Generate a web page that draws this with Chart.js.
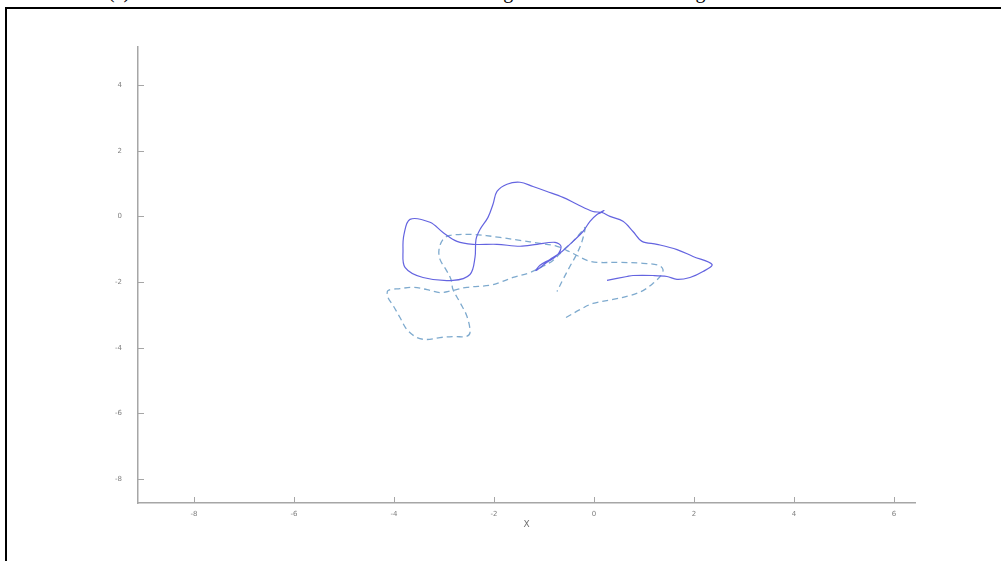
<!DOCTYPE html>
<html>
<head>
<meta charset="utf-8">
<script src="https://cdn.jsdelivr.net/npm/chart.js@4.4.1/dist/chart.umd.min.js"></script>
<style>
  body { margin: 0; background: #fff; width: 1001px; height: 561px; overflow: hidden; position: relative; }
  #frame { position: absolute; left: 5px; top: 7px; width: 1000px; height: 560px; border-top: 2px solid #000; border-left: 2px solid #000; }
  #caption { position: absolute; top: -20px; left: 0; width: 1001px; height: 24px; font: 20px "Liberation Serif", serif; color: #000; }
  #caption span { position: absolute; top: 0; }
  #wrap { position: absolute; left: 0; top: 0; }
</style>
</head>
<body>
<div id="caption"><span style="left:108px">(a)</span><span style="left:470px">using</span><span style="left:640px">tracking</span></div>
<div id="frame"></div>
<div id="wrap"><canvas id="chart" width="1001" height="561"></canvas></div>
<script>
// axis ticks
const xTicks = [-8, -6, -4, -2, 0, 2, 4, 6];
const yTicks = [-8, -6, -4, -2, 0, 2, 4];

// solid trajectory
const solidX = [0.26, 0.66, 0.78, 1.18, 1.46, 1.66, 1.92, 2.18, 2.36, 1.98, 1.66, 1.26, 0.96, 0.78, 0.58, 0.32, 0.16,
  -0.02, -0.34, -0.62, -0.94, -1.22, -1.48, -1.74, -1.94, -2.02, -2.12, -2.28, -2.36, -2.38, -2.48, -2.82, -3.42,
  -3.78, -3.82, -3.80, -3.68, -3.28, -3.02, -2.74, -2.42, -1.94, -1.48, -1.14, -0.78, -0.66, -0.74, -0.94, -1.16,
  -1.08, -0.88, -0.64, -0.42, -0.22, -0.08, 0.06, 0.20, 0.10, 0.18];
const solidY = [-1.95, -1.83, -1.80, -1.80, -1.83, -1.92, -1.86, -1.68, -1.46, -1.22, -1.01, -0.85, -0.76, -0.46, -0.15, 0.00, 0.12,
  0.15, 0.37, 0.58, 0.76, 0.91, 1.04, 0.98, 0.76, 0.37, -0.03, -0.40, -0.70, -1.25, -1.77, -1.95, -1.86,
  -1.55, -1.01, -0.55, -0.09, -0.18, -0.49, -0.76, -0.85, -0.85, -0.91, -0.85, -0.79, -0.91, -1.19, -1.40, -1.65,
  -1.49, -1.31, -1.07, -0.76, -0.46, -0.15, 0.06, 0.18, 0.09, 0.15];

// dashed trajectory
const dashX = [-0.56, -0.28, -0.02, 0.38, 0.72, 0.98, 1.18, 1.34, 1.38, 1.30, 0.98, 0.52, 0.06, -0.14, -0.34, -0.54,
  -0.74, -1.08, -1.48, -1.88, -2.42, -2.88, -3.02, -3.10, -3.08, -2.96, -2.86, -2.82, -2.68, -2.54, -2.48, -2.56,
  -2.78, -3.08, -3.34, -3.54, -3.74, -3.88, -4.02, -4.12, -4.12, -3.88, -3.62, -3.34, -3.08, -2.84, -2.54, -2.08,
  -1.88, -1.62, -1.28, -1.02, -0.82, -0.62, -0.42, -0.28, -0.18, -0.24, -0.34, -0.48, -0.62, -0.74];
const dashY = [-3.08, -2.84, -2.65, -2.53, -2.41, -2.26, -2.04, -1.80, -1.62, -1.49, -1.43, -1.40, -1.40, -1.34, -1.19, -1.04,
  -0.91, -0.82, -0.73, -0.64, -0.55, -0.58, -0.70, -1.01, -1.31, -1.62, -1.92, -2.23, -2.62, -3.05, -3.54, -3.66,
  -3.66, -3.69, -3.75, -3.69, -3.45, -3.08, -2.71, -2.47, -2.26, -2.20, -2.16, -2.23, -2.32, -2.26, -2.16, -2.10,
  -2.01, -1.86, -1.71, -1.52, -1.34, -1.04, -0.76, -0.52, -0.34, -0.76, -1.13, -1.52, -1.92, -2.29];

const toPoints = (xs, ys) => xs.map((x, i) => ({ x: x, y: ys[i] }));

const axisColor = "#a6a6a6";
const labelColor = "#808080";

// ticks drawn inward from the axis lines
const innerTicks = {
  id: "innerTicks",
  afterDraw(chart) {
    const { ctx, chartArea, scales } = chart;
    ctx.save();
    ctx.strokeStyle = axisColor;
    ctx.lineWidth = 1;
    scales.x.ticks.forEach(t => {
      const px = Math.round(scales.x.getPixelForValue(t.value)) + 0.5;
      ctx.beginPath();
      ctx.moveTo(px, chartArea.bottom);
      ctx.lineTo(px, chartArea.bottom - 6);
      ctx.stroke();
    });
    scales.y.ticks.forEach(t => {
      const py = Math.round(scales.y.getPixelForValue(t.value)) + 0.5;
      ctx.beginPath();
      ctx.moveTo(chartArea.left, py);
      ctx.lineTo(chartArea.left + 6, py);
      ctx.stroke();
    });
    ctx.restore();
  }
};

new Chart(document.getElementById("chart"), {
  type: "scatter",
  data: {
    datasets: [
      {
        data: toPoints(solidX, solidY),
        showLine: true,
        borderColor: "#6464e0",
        borderWidth: 1.2,
        pointRadius: 0,
        tension: 0.35,
        fill: false
      },
      {
        data: toPoints(dashX, dashY),
        showLine: true,
        borderColor: "#7eaace",
        borderWidth: 1.3,
        borderDash: [6, 4],
        pointRadius: 0,
        tension: 0.35,
        fill: false
      }
    ]
  },
  options: {
    responsive: false,
    animation: false,
    devicePixelRatio: 1,
    layout: { padding: { left: 0, top: 47, right: 86, bottom: 0 } },
    plugins: { legend: { display: false }, tooltip: { enabled: false } },
    scales: {
      x: {
        type: "linear",
        min: -9.12,
        max: 6.42,
        afterBuildTicks: s => { s.ticks = xTicks.map(v => ({ value: v })); },
        afterFit: s => { s.height = 58; },
        grid: { display: false, drawTicks: false },
        border: { display: true, color: axisColor, width: 1.5 },
        ticks: { color: labelColor, font: { family: "DejaVu Sans", size: 7 }, padding: 7, maxRotation: 0 },
        title: { display: true, text: "X", color: "#707070", font: { family: "DejaVu Sans", size: 9 }, padding: { top: 0, bottom: 31 } }
      },
      y: {
        type: "linear",
        min: -8.73,
        max: 5.16,
        afterBuildTicks: s => { s.ticks = yTicks.map(v => ({ value: v })); },
        afterFit: s => { s.width = 138; },
        grid: { display: false, drawTicks: false },
        border: { display: true, color: axisColor, width: 1.5 },
        ticks: { color: labelColor, font: { family: "DejaVu Sans", size: 7 }, padding: 16 }
      }
    }
  },
  plugins: [innerTicks]
});
</script>
</body>
</html>
